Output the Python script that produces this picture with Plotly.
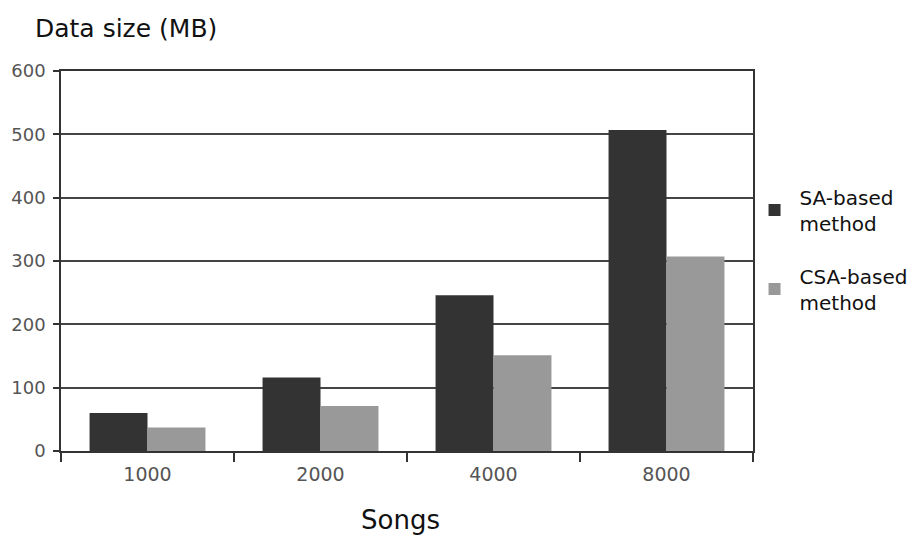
import plotly.graph_objects as go

# Number of songs in each test set (category labels)
songs = ["1000", "2000", "4000", "8000"]
# Data size in MB for each method
sa_based = [60, 116, 246, 507]
csa_based = [37, 71, 151, 307]
y_ticks = [0, 100, 200, 300, 400, 500, 600]

FONT = "DejaVu Sans"

fig = go.Figure()
fig.add_trace(go.Bar(
    x=songs, y=sa_based, name="SA-based<br>method", legendgroup="sa",
    marker=dict(color="#333333", line=dict(width=0)),
))
fig.add_trace(go.Bar(
    x=songs, y=csa_based, name="CSA-based<br>method", legendgroup="csa",
    marker=dict(color="#999999", line=dict(width=0)),
))

fig.update_layout(
    width=913, height=539,
    margin=dict(l=61, r=160, t=71, b=88, autoexpand=False),
    paper_bgcolor="white", plot_bgcolor="white",
    barmode="group", bargap=0.33, bargroupgap=0,
    font=dict(family=FONT, color="#111111"),
    showlegend=True,
    legend=dict(
        x=0.995, xanchor="left", y=0.72, yanchor="top",
        font=dict(family=FONT, size=20, color="#111111"),
        bgcolor="rgba(0,0,0,0)", traceorder="grouped", tracegroupgap=24,
        itemwidth=40,
    ),
    xaxis=dict(
        type="category", tickson="boundaries",
        ticks="outside", ticklen=9, tickwidth=1.5, tickcolor="#333333",
        showline=True, linecolor="#333333", linewidth=1.5, mirror=True,
        showgrid=False, zeroline=False, ticklabelstandoff=5,
        tickfont=dict(family=FONT, size=19, color="#555555"),
    ),
    yaxis=dict(
        range=[0, 600], tickvals=y_ticks,
        ticks="outside", ticklen=6, tickwidth=1.5, tickcolor="#333333",
        showline=True, linecolor="#333333", linewidth=1.5, mirror=True,
        showgrid=True, gridcolor="#444444", gridwidth=1.5, zeroline=False,
        ticklabelstandoff=4,
        tickfont=dict(family=FONT, size=18, color="#555555"),
    ),
    annotations=[
        dict(text="Data size (MB)", xref="paper", yref="paper",
             x=-0.0405, y=1.113, xanchor="left", yanchor="middle",
             showarrow=False, font=dict(family=FONT, size=25, color="#111111")),
        dict(text="Songs", xref="paper", yref="paper",
             x=0.491, y=-0.182, xanchor="center", yanchor="middle",
             showarrow=False, font=dict(family=FONT, size=26, color="#111111")),
    ],
)

fig.write_html("out.html")
